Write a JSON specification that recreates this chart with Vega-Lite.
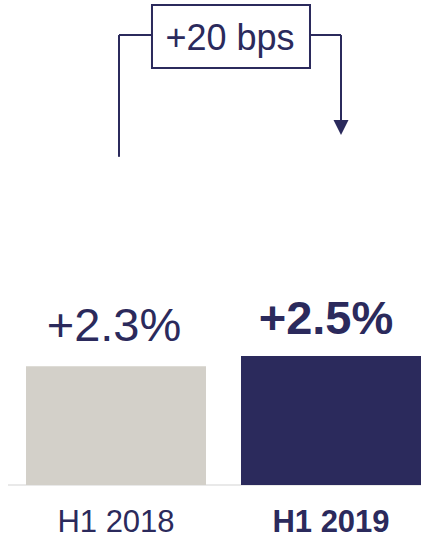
{
  "$schema": "https://vega.github.io/schema/vega-lite/v6.json",
  "width": 421,
  "height": 538,
  "padding": 0,
  "autosize": {"type": "none"},
  "background": "white",
  "config": {"view": {"stroke": null}, "font": "Liberation Sans"},
  "datasets": {
    "bars": [
      {"period": "H1 2018", "pos": 1, "growth": 0.023},
      {"period": "H1 2019", "pos": 2, "growth": 0.025}
    ],
    "bracket": [
      {"x": 1.014, "x2": 1.014, "y": 0.0636, "y2": 0.0872},
      {"x": 1.014, "x2": 2.0465, "y": 0.0872, "y2": 0.0872},
      {"x": 2.0465, "x2": 2.0465, "y": 0.0872, "y2": 0.0700}
    ],
    "arrow": [{"x": 2.0465, "y": 0.0693}],
    "box": [{"x": 1.1674, "x2": 1.9023, "y": 0.0930, "y2": 0.0808, "label": "+20 bps", "cx": 1.5302, "ty": 0.0843}],
    "baseline": [{"x": 0.4977, "x2": 2.4186, "y": 0}]
  },
  "layer": [
    {
      "data": {"name": "baseline"},
      "mark": {"type": "rule", "color": "#e2e2e2", "strokeWidth": 1.5},
      "encoding": {
        "x": {"field": "x", "type": "quantitative", "axis": null, "scale": {"domain": [0.4605, 2.4186], "nice": false, "zero": false, "padding": 0}},
        "x2": {"field": "x2"},
        "y": {"field": "y", "type": "quantitative", "axis": null, "scale": {"domain": [-0.01027, 0.09399], "nice": false, "zero": false, "padding": 0}}
      }
    },
    {
      "data": {"name": "bars"},
      "mark": {"type": "bar", "orient": "vertical", "width": 180},
      "encoding": {
        "x": {"field": "pos", "type": "quantitative", "axis": null, "scale": {"domain": [0.4605, 2.4186], "nice": false, "zero": false, "padding": 0}},
        "y": {"field": "growth", "type": "quantitative", "axis": null, "scale": {"domain": [-0.01027, 0.09399], "nice": false, "zero": false, "padding": 0}},
        "y2": {"datum": 0},
        "color": {"field": "period", "type": "nominal", "legend": null, "scale": {"domain": ["H1 2018", "H1 2019"], "range": ["#d3d0c9", "#2b2a5c"]}}
      }
    },
    {
      "data": {"name": "bars"},
      "mark": {
        "type": "text",
        "fontSize": 47,
        "baseline": "alphabetic",
        "align": "center",
        "color": "#2b2a5c",
        "dy": {"expr": "datum.period == 'H1 2019' ? -22 : -25"},
        "dx": {"expr": "datum.period == 'H1 2019' ? -5 : -2"},
        "fontWeight": {"expr": "datum.period == 'H1 2019' ? 'bold' : 'normal'"}
      },
      "encoding": {
        "x": {"field": "pos", "type": "quantitative"},
        "y": {"field": "growth", "type": "quantitative"},
        "text": {"field": "growth", "type": "quantitative", "format": "+.1%"}
      }
    },
    {
      "data": {"name": "bars"},
      "mark": {
        "type": "text",
        "fontSize": 31,
        "baseline": "alphabetic",
        "align": "center",
        "color": "#2b2a5c",
        "dy": 47,
        "fontWeight": {"expr": "datum.period == 'H1 2019' ? 'bold' : 'normal'"}
      },
      "encoding": {
        "x": {"field": "pos", "type": "quantitative"},
        "y": {"datum": 0, "type": "quantitative"},
        "text": {"field": "period", "type": "nominal"}
      }
    },
    {
      "data": {"name": "bracket"},
      "mark": {"type": "rule", "color": "#2b2a5c", "strokeWidth": 2},
      "encoding": {
        "x": {"field": "x", "type": "quantitative"},
        "x2": {"field": "x2"},
        "y": {"field": "y", "type": "quantitative"},
        "y2": {"field": "y2"}
      }
    },
    {
      "data": {"name": "arrow"},
      "mark": {"type": "point", "shape": "M-1,-1L1,-1L0,1Z", "size": 225, "filled": true, "color": "#2b2a5c", "opacity": 1},
      "encoding": {
        "x": {"field": "x", "type": "quantitative"},
        "y": {"field": "y", "type": "quantitative"}
      }
    },
    {
      "data": {"name": "box"},
      "mark": {"type": "rect", "fill": "white", "stroke": "#2b2a5c", "strokeWidth": 2},
      "encoding": {
        "x": {"field": "x", "type": "quantitative"},
        "x2": {"field": "x2"},
        "y": {"field": "y", "type": "quantitative"},
        "y2": {"field": "y2"}
      }
    },
    {
      "data": {"name": "box"},
      "mark": {"type": "text", "fontSize": 36, "baseline": "alphabetic", "align": "center", "color": "#2b2a5c"},
      "encoding": {
        "x": {"field": "cx", "type": "quantitative"},
        "y": {"field": "ty", "type": "quantitative"},
        "text": {"field": "label", "type": "nominal"}
      }
    }
  ]
}
